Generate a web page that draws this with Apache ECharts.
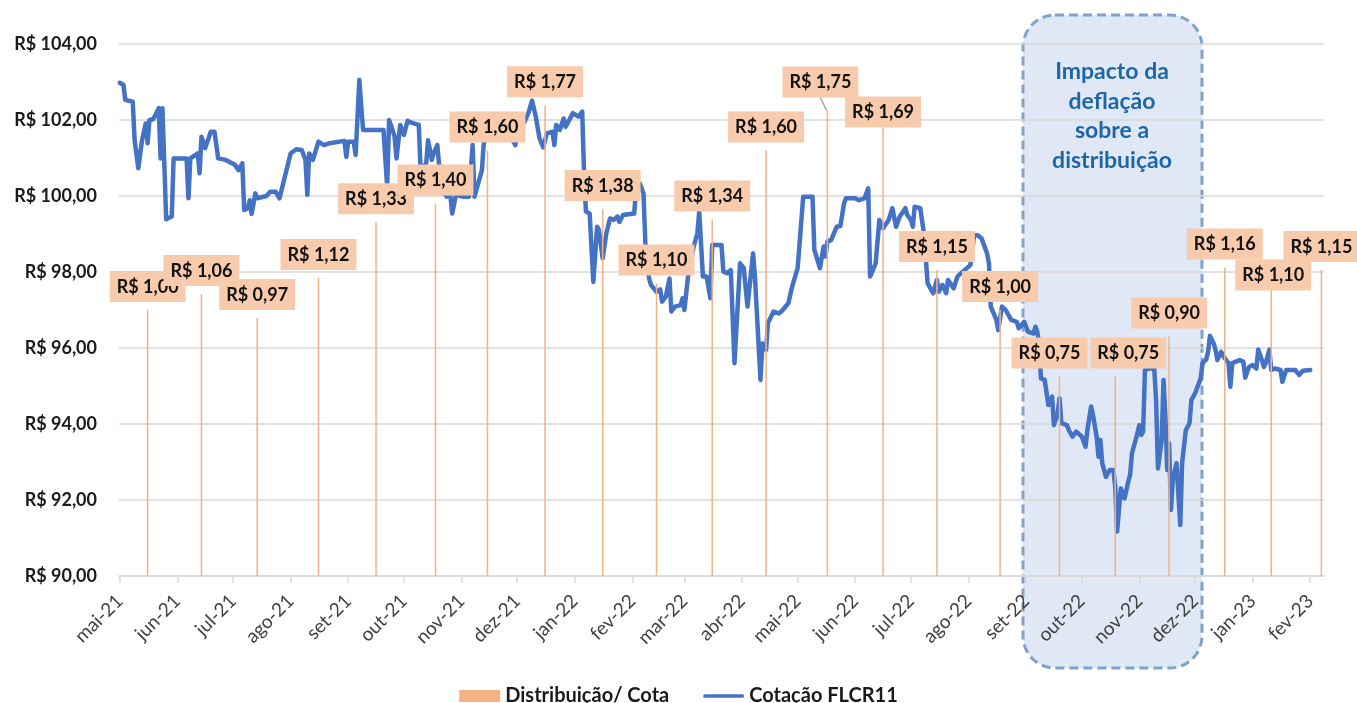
<!DOCTYPE html>
<html>
<head>
<meta charset="utf-8">
<title>FLCR11 - Cotação x Distribuição</title>
<script src="https://cdn.jsdelivr.net/npm/echarts@6.0.0/dist/echarts.min.js"></script>
<style>
  html, body { margin: 0; padding: 0; background: #fff; }
  #main { width: 1357px; height: 703px; }
</style>
</head>
<body>
<div id="main"></div>
<script>
// eixo de datas: dia 0 = 01/05/2021
var startDate = '2021-05-01'
var endDate = '2023-02-08'

// cotação FLCR11 (dias desde startDate / valor em R$)
var priceDay = [
  0, 2, 3, 7, 8, 10, 12, 14, 15, 16,
  18, 21, 22, 23, 24, 25, 28, 29, 36, 37,
  38, 42, 43, 44, 46, 49, 51, 53, 57, 62,
  64, 66, 67, 69, 70, 71, 73, 74, 79, 81,
  84, 86, 88, 92, 95, 98, 100, 101, 102, 104,
  105, 107, 110, 113, 121, 122, 123, 126, 127, 129,
  130, 131, 142, 144, 145, 146, 148, 149, 151, 153,
  155, 157, 161, 162, 165, 166, 168, 169, 171, 173,
  176, 178, 179, 181, 185, 188, 190, 191, 192, 195,
  196, 200, 205, 209, 213, 216, 218, 220, 222, 224,
  226, 228, 230, 233, 234, 235, 237, 239, 240, 243,
  244, 247, 249, 250, 251, 253, 255, 257, 258, 260,
  262, 264, 266, 268, 269, 271, 272, 277, 278, 280,
  282, 283, 285, 286, 289, 291, 292, 294, 296, 297,
  299, 302, 303, 304, 306, 309, 311, 312, 314, 315,
  316, 318, 319, 324, 325, 327, 329, 331, 334, 336,
  338, 341, 342, 345, 346, 348, 349, 352, 355, 357,
  360, 362, 365, 368, 373, 374, 375, 377, 379, 380,
  381, 383, 386, 388, 390, 391, 396, 398, 401, 403,
  404, 407, 409, 411, 414, 416, 418, 420, 423, 424,
  426, 427, 428, 431, 433, 435, 438, 440, 441, 443,
  445, 446, 449, 451, 453, 458, 460, 462, 464, 467,
  468, 469, 472, 473, 475, 477, 480, 483, 484, 487,
  489, 492, 493, 494, 495, 496, 498, 500, 502, 503,
  505, 506, 507, 510, 511, 513, 515, 516, 518, 520,
  521, 523, 524, 526, 527, 528, 529, 531, 532, 533,
  535, 536, 537, 539, 540, 541, 543, 544, 545, 547,
  549, 550, 551, 552, 554, 557, 558, 559, 561, 562,
  563, 564, 565, 566, 567, 569, 570, 571, 572, 574,
  576, 577, 579, 580, 582, 583, 585, 586, 587, 589,
  590, 591, 593, 595, 597, 598, 599, 601, 603, 605,
  606, 608, 610, 612, 613, 615, 616, 617, 619, 620,
  622, 625, 626, 628, 633, 635, 637, 641
]
var priceValue = [
  102.98, 102.92, 102.53, 102.48, 101.47, 100.73, 101.47, 101.91, 101.39, 102.0,
  102.02, 102.31, 100.99, 102.31, 102.31, 99.39, 99.46, 100.99, 100.99, 99.94,
  100.99, 101.12, 100.6, 101.56, 101.26, 101.69, 101.69, 100.99, 100.95, 100.82,
  100.68, 100.86, 99.63, 99.68, 99.89, 99.53, 100.07, 99.94, 100.0, 100.11,
  100.11, 99.94, 100.33, 101.12, 101.23, 101.21, 100.95, 100.03, 101.12, 100.95,
  100.97, 101.43, 101.34, 101.39, 101.45, 101.03, 101.43, 101.43, 101.08, 103.05,
  103.07, 101.74, 101.74, 100.24, 102.0, 101.87, 101.56, 100.99, 101.87, 101.61,
  101.98, 101.93, 101.87, 100.68, 100.86, 101.47, 100.95, 101.12, 101.34, 100.24,
  99.98, 100.03, 99.54, 100.03, 99.98, 99.98, 101.34, 99.98, 99.98, 100.68,
  101.39, 101.8, 101.95, 101.7, 101.34, 102.04, 101.96, 102.18, 102.51, 102.09,
  101.52, 101.28, 101.65, 101.69, 101.34, 101.87, 101.74, 102.04, 101.82, 102.09,
  102.18, 102.09, 102.22, 100.6, 99.59, 99.54, 97.74, 99.19, 99.11, 98.36,
  99.02, 99.41, 99.37, 99.46, 99.32, 99.5, 99.54, 99.54, 100.16, 100.33,
  100.07, 98.76, 97.83, 97.66, 97.48, 97.54, 97.22, 97.35, 97.83, 96.96,
  97.09, 97.13, 97.31, 97.0, 97.88, 98.67, 99.02, 99.59, 97.88, 97.83,
  97.88, 97.31, 98.71, 98.71, 98.01, 97.97, 98.05, 95.6, 98.23, 98.1,
  97.09, 98.49, 97.88, 95.16, 96.12, 95.95, 96.65, 96.96, 96.91, 97.0,
  97.18, 97.61, 98.1, 99.98, 99.98, 98.58, 98.53, 98.1, 98.67, 98.41,
  98.8, 98.84, 99.19, 99.21, 99.81, 99.94, 99.94, 99.89, 99.94, 100.2,
  97.88, 98.23, 99.37, 99.15, 99.37, 99.68, 99.19, 99.46, 99.68, 99.5,
  99.37, 99.19, 99.72, 99.68, 99.02, 97.7, 97.44, 97.79, 97.48, 97.66,
  97.44, 97.79, 97.57, 97.88, 97.97, 98.18, 98.97, 98.97, 98.89, 98.49,
  98.23, 97.09, 96.74, 96.47, 97.09, 97.0, 96.74, 96.69, 96.52, 96.69,
  96.43, 96.38, 96.56, 96.43, 96.12, 95.2, 95.16, 94.5, 94.72, 93.97,
  94.28, 94.68, 94.02, 93.97, 93.84, 93.67, 93.8, 93.84, 93.67, 93.4,
  93.84, 94.46, 94.24, 93.67, 93.14, 93.58, 92.97, 92.61, 92.66, 92.79,
  92.79, 92.35, 91.17, 92.31, 92.26, 92.04, 92.48, 92.66, 93.23, 93.58,
  93.97, 93.71, 93.8, 95.42, 95.46, 95.46, 94.63, 92.83, 93.58, 95.16,
  94.19, 92.79, 93.49, 91.74, 92.53, 92.97, 92.97, 91.34, 92.97, 93.84,
  94.02, 94.63, 94.81, 94.76, 95.2, 95.6, 95.7, 95.9, 96.32, 96.12,
  95.95, 95.68, 95.9, 95.73, 95.6, 94.98, 95.6, 95.64, 95.68, 95.64,
  95.22, 95.5, 95.55, 95.46, 95.96, 95.68, 95.5, 95.6, 95.96, 95.42,
  95.46, 95.42, 95.11, 95.42, 95.42, 95.29, 95.4, 95.42
]

// distribuição por cota
var distDates = [
  '2021-05-16', '2021-06-14', '2021-07-14', '2021-08-16', '2021-09-16', '2021-10-18',
  '2021-11-15', '2021-12-16', '2022-01-16', '2022-02-14', '2022-03-16', '2022-04-14',
  '2022-05-17', '2022-06-16', '2022-07-15', '2022-08-18', '2022-09-19', '2022-10-19',
  '2022-11-17', '2022-12-17', '2023-01-11', '2023-02-07'
]
var distValues = [
  1.00, 1.06, 0.97, 1.12, 1.33, 1.40, 1.60, 1.77, 1.38, 1.10, 1.34, 1.60,
  1.75, 1.69, 1.15, 1.00, 0.75, 0.75, 0.90, 1.16, 1.10, 1.15
]

var monthNames = ['jan', 'fev', 'mar', 'abr', 'mai', 'jun', 'jul', 'ago', 'set', 'out', 'nov', 'dez']

// rótulos movidos à mão no original (dx, dy em px)
var labelShift = { 12: [-7, -5], 13: [0, 9], 16: [-10, 0], 17: [13, 0], 20: [2, 15] }

var DAY = 86400000
function toUTC(s) {
  var p = s.split('-')
  return Date.UTC(+p[0], +p[1] - 1, +p[2])
}
function brl(v) {
  return 'R$ ' + v.toFixed(2).replace('.', ',')
}

var t0 = toUTC(startDate)
var priceData = priceDay.map(function (d, i) { return [t0 + d * DAY, priceValue[i]] })
var distData = distDates.map(function (s, i) {
  var item = { value: [toUTC(s), distValues[i]] }
  if (i === 12) {
    item.labelLine = { show: true, lineStyle: { color: '#A6A6A6', width: 1.5 } }
  }
  return item
})

var font = 'Lato, "Open Sans", sans-serif'

var chart = echarts.init(document.getElementById('main'))
var option = {
  useUTC: true,
  animation: false,
  backgroundColor: '#ffffff',
  textStyle: { fontFamily: font },
  grid: {
    left: 119,
    right: 33,
    top: 44,
    bottom: 127,
    containLabel: false,
    outerBoundsMode: 'none'
  },
  legend: {
    left: 'center',
    top: 681,
    itemWidth: 41,
    itemHeight: 12,
    itemGap: 34,
    textStyle: { fontFamily: font, fontSize: 20, fontWeight: 'bold', color: '#1a1a1a' },
    data: [
      { name: 'Distribuição/ Cota', icon: 'rect', itemStyle: { color: '#F4B183' } },
      {
        name: 'Cotação FLCR11',
        icon: 'path://M2,0 L42,0 A2,2 0 0 1 42,4 L2,4 A2,2 0 0 1 2,0 Z',
        itemStyle: { color: '#4472C4' }
      }
    ]
  },
  xAxis: {
    type: 'time',
    min: toUTC(startDate),
    max: toUTC(endDate),
    splitNumber: 21,
    minInterval: 28 * DAY,
    maxInterval: 31 * DAY,
    axisLine: { lineStyle: { color: '#D9D9D9', width: 1.5 } },
    axisTick: { show: true, length: 7, lineStyle: { color: '#D9D9D9', width: 1.5 } },
    splitLine: { show: false },
    axisLabel: {
      rotate: 45,
      margin: 22,
      fontFamily: font,
      fontSize: 19,
      color: '#404040',
      formatter: function (value) {
        var d = new Date(value)
        if (d.getUTCDate() !== 1) return ''
        return monthNames[d.getUTCMonth()] + '-' + String(d.getUTCFullYear()).slice(2)
      }
    }
  },
  yAxis: [
    {
      type: 'value',
      min: 90,
      max: 104,
      interval: 2,
      axisLine: { show: false },
      axisTick: { show: false },
      splitLine: { lineStyle: { color: '#D9D9D9', width: 1.5 } },
      axisLabel: {
        margin: 22,
        fontFamily: font,
        fontSize: 18,
        fontWeight: 'bold',
        color: '#1a1a1a',
        formatter: function (v) { return brl(v) }
      }
    },
    {
      type: 'value',
      min: 0,
      max: 2,
      show: false,
      splitLine: { show: false }
    }
  ],
  series: [
    {
      name: 'Cotação FLCR11',
      type: 'line',
      data: priceData,
      symbol: 'none',
      z: 2,
      lineStyle: { color: '#4472C4', width: 4.5, join: 'round', cap: 'round' },
      itemStyle: { color: '#4472C4' }
    },
    {
      name: 'Distribuição/ Cota',
      type: 'bar',
      yAxisIndex: 1,
      data: distData,
      barWidth: 1.5,
      z: 3,
      itemStyle: { color: '#F4B183' },
      label: {
        show: true,
        position: 'top',
        distance: 8,
        fontFamily: font,
        fontSize: 18,
        fontWeight: 'bold',
        color: '#111111',
        backgroundColor: '#F8CBAD',
        padding: [7, 7, 6, 7],
        formatter: function (p) { return brl(p.value[1]) }
      },
      labelLine: { show: false },
      labelLayout: function (p) {
        var s = labelShift[p.dataIndex]
        if (!s) return {}
        return { dx: s[0], dy: s[1] }
      }
    }
  ],
  graphic: [
    {
      // caixa de destaque atrás de tudo (grade e linha passam por cima)
      type: 'rect',
      z: -1,
      shape: { x: 1023, y: 15, width: 179, height: 653, r: 32 },
      style: {
        fill: 'rgba(170, 195, 225, 0.38)',
        stroke: '#7FA3CA',
        lineWidth: 3,
        lineDash: [9, 5]
      }
    },
    {
      type: 'text',
      z: 5,
      x: 1112,
      y: 57,
      style: {
        text: 'Impacto da\ndeflação\nsobre a\ndistribuição',
        align: 'center',
        verticalAlign: 'top',
        lineHeight: 29.5,
        fontFamily: font,
        fontSize: 23,
        fontWeight: 'bold',
        fill: '#1F66A8'
      }
    }
  ]
}
chart.setOption(option)
</script>
</body>
</html>
